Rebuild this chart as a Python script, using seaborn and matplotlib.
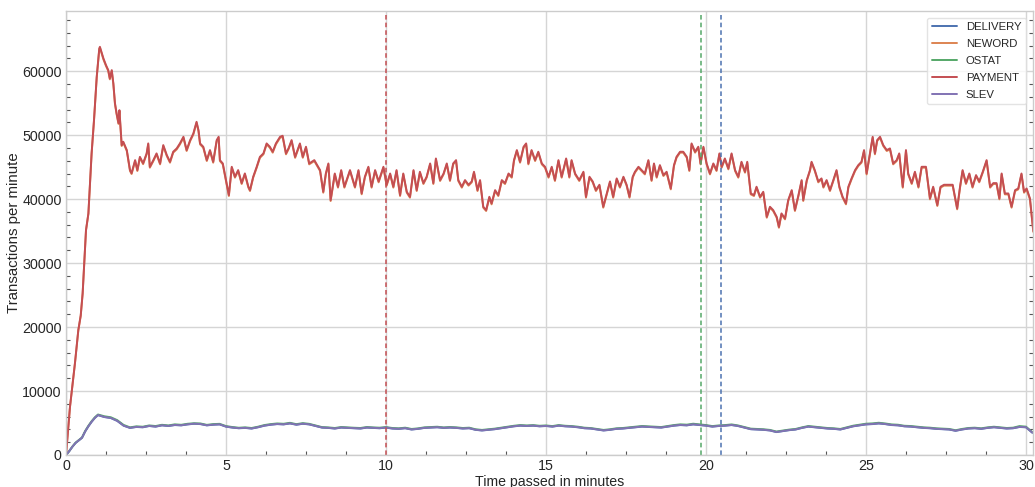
import numpy as np
import pandas as pd
import matplotlib
matplotlib.use("Agg")
import matplotlib.pyplot as plt
from matplotlib.ticker import MultipleLocator
import seaborn as sns

series_names = ["DELIVERY", "NEWORD", "OSTAT", "PAYMENT", "SLEV"]

# time (minutes) for the high-rate series (NEWORD, PAYMENT)
high_t = [
    0.00, 0.125, 0.28, 0.385, 0.46, 0.52, 0.625, 0.70, 0.80, 0.875,
    0.96, 1.04, 1.06, 1.17, 1.25, 1.32, 1.37, 1.43, 1.48, 1.53,
    1.58, 1.64, 1.67, 1.74, 1.79, 1.90, 2.00, 2.05, 2.16, 2.23,
    2.31, 2.41, 2.52, 2.57, 2.62, 2.73, 2.83, 2.94, 3.04, 3.15,
    3.25, 3.35, 3.46, 3.56, 3.67, 3.77, 3.88, 3.98, 4.08, 4.14,
    4.19, 4.29, 4.40, 4.50, 4.60, 4.71, 4.77, 4.81, 4.90, 5.02,
    5.09, 5.18, 5.28, 5.38, 5.49, 5.59, 5.70, 5.75, 5.85, 5.96,
    6.06, 6.17, 6.27, 6.37, 6.46, 6.56, 6.69, 6.77, 6.875, 6.96,
    7.05, 7.16, 7.31, 7.40, 7.50, 7.60, 7.76, 7.88, 7.94, 8.04,
    8.12, 8.20, 8.27, 8.40, 8.50, 8.60, 8.70, 8.875, 9.03, 9.14,
    9.24, 9.34, 9.45, 9.55, 9.66, 9.77, 9.92, 10.02, 10.13, 10.23,
    10.33, 10.44, 10.54, 10.65, 10.75, 10.86, 10.96, 11.06, 11.17, 11.27,
    11.38, 11.48, 11.56, 11.69, 11.80, 11.90, 12.00, 12.10, 12.19, 12.26,
    12.37, 12.47, 12.58, 12.68, 12.75, 12.86, 12.94, 13.04, 13.13, 13.23,
    13.30, 13.41, 13.51, 13.62, 13.72, 13.83, 13.93, 14.00, 14.09, 14.19,
    14.30, 14.38, 14.45, 14.55, 14.66, 14.76, 14.87, 14.97, 15.08, 15.18,
    15.28, 15.39, 15.49, 15.63, 15.73, 15.80, 15.91, 16.04, 16.17, 16.25,
    16.36, 16.46, 16.56, 16.67, 16.79, 16.90, 17.00, 17.10, 17.21, 17.31,
    17.42, 17.52, 17.61, 17.71, 17.78, 17.89, 17.99, 18.09, 18.20, 18.30,
    18.375, 18.46, 18.56, 18.67, 18.77, 18.90, 19.00, 19.08, 19.19, 19.29,
    19.40, 19.48, 19.55, 19.66, 19.76, 19.83, 19.92, 20.02, 20.125, 20.23,
    20.33, 20.42, 20.49, 20.59, 20.70, 20.80, 20.91, 21.01, 21.11, 21.22,
    21.29, 21.40, 21.50, 21.58, 21.69, 21.79, 21.90, 22.00, 22.10, 22.21,
    22.28, 22.36, 22.47, 22.57, 22.68, 22.78, 22.89, 22.99, 23.04, 23.15,
    23.25, 23.30, 23.40, 23.51, 23.61, 23.67, 23.77, 23.875, 23.98, 24.08,
    24.17, 24.27, 24.375, 24.45, 24.55, 24.66, 24.76, 24.86, 24.94, 25.02,
    25.125, 25.21, 25.28, 25.35, 25.44, 25.54, 25.65, 25.75, 25.85, 25.96,
    26.04, 26.15, 26.25, 26.32, 26.43, 26.53, 26.64, 26.74, 26.875, 27.00,
    27.10, 27.23, 27.33, 27.44, 27.57, 27.71, 27.78, 27.85, 27.94, 28.02,
    28.125, 28.23, 28.33, 28.44, 28.54, 28.65, 28.77, 28.88, 28.98, 29.08,
    29.17, 29.24, 29.34, 29.45, 29.55, 29.66, 29.76, 29.86, 29.94, 30.02,
    30.125, 30.21, 30.23,
]

payment_v = [
    0, 7550, 14370, 19530, 21800, 25260, 35160, 37760, 47140, 52340,
    59100, 63540, 63800, 61980, 60940, 60160, 58850, 60160, 58070, 55000,
    53440, 51880, 53900, 48440, 48960, 47660, 44530, 44060, 46090, 44530,
    46600, 45600, 47140, 48700, 45050, 46090, 47140, 45570, 48440, 46880,
    45830, 47400, 47920, 48700, 49740, 47660, 49220, 50260, 52080, 50780,
    48700, 48180, 46090, 47660, 45830, 49220, 49740, 46090, 45570, 42500,
    40620, 45050, 43490, 44530, 42500, 44010, 41930, 41400, 43490, 45050,
    46600, 47140, 48700, 48180, 47400, 48700, 49740, 49900, 47140, 48000,
    49220, 46600, 48700, 46600, 48180, 45570, 46090, 45050, 44530, 41140,
    44000, 45570, 39840, 44000, 41930, 44530, 41930, 44530, 41930, 44530,
    40890, 43490, 45050, 41930, 44530, 42760, 45050, 42240, 44000, 41930,
    44530, 40620, 44000, 41140, 40360, 44530, 41400, 44270, 42500, 43490,
    45570, 42500, 46350, 42970, 44000, 45570, 42970, 45570, 46090, 42970,
    41930, 42970, 42240, 42760, 44270, 41400, 42970, 38800, 38280, 40360,
    39320, 41400, 40620, 42970, 42500, 44000, 43490, 46090, 47660, 45830,
    48180, 48700, 45570, 47660, 46090, 47400, 45570, 45050, 43490, 45050,
    42970, 46090, 43490, 46350, 43490, 46090, 44000, 42970, 44270, 40360,
    43490, 42760, 41400, 42240, 38800, 40880, 42760, 40360, 43230, 41930,
    43490, 42240, 40360, 43490, 44270, 45050, 44530, 44000, 46090, 42970,
    45570, 43490, 45310, 43750, 44270, 41660, 45310, 46610, 47400, 47400,
    46610, 44530, 48700, 47400, 48180, 45570, 48180, 45570, 44000, 45570,
    44530, 47140, 45050, 46350, 44790, 47140, 44530, 43490, 45830, 44270,
    45830, 40880, 40620, 41930, 40360, 41140, 37230, 38800, 38280, 37230,
    35660, 37760, 36970, 39840, 41400, 38280, 40620, 42970, 39840, 42970,
    44530, 45830, 44530, 42760, 43230, 41930, 42970, 41400, 42970, 44530,
    41930, 40360, 39320, 41930, 43230, 44530, 45310, 45830, 47660, 44000,
    47140, 49740, 47140, 49220, 49740, 48440, 47660, 47920, 45570, 46090,
    47140, 41930, 47660, 44000, 42500, 44270, 41930, 45050, 45050, 40100,
    41930, 39060, 41930, 42240, 42240, 42240, 40360, 38540, 41930, 44530,
    42500, 44000, 41930, 43750, 42760, 44270, 46090, 41930, 42500, 42500,
    40100, 44000, 40880, 40880, 38800, 41400, 41660, 44000, 41140, 41660,
    40100, 35920, 35000,
]

neword_v = [
    0, 7520, 14330, 19490, 21760, 25220, 35100, 37700, 47070, 52260,
    59000, 63420, 63650, 61820, 60800, 60040, 58720, 60020, 57950, 54860,
    53300, 51750, 53760, 48300, 48820, 47520, 44400, 43920, 45950, 44390,
    46460, 45460, 47000, 48540, 44910, 45950, 47000, 45430, 48280, 46730,
    45690, 47260, 47770, 48540, 49580, 47520, 49070, 50100, 51920, 50630,
    48550, 48030, 45950, 47520, 45690, 49070, 49580, 45950, 45430, 42360,
    40480, 44910, 43350, 44390, 42360, 43870, 41790, 41260, 43350, 44910,
    46450, 47000, 48550, 48030, 47260, 48550, 49580, 49740, 47000, 47850,
    49070, 46450, 48550, 46460, 48030, 45430, 45950, 44910, 44390, 41000,
    43860, 45430, 39700, 43860, 41790, 44390, 41790, 44390, 41790, 44390,
    40750, 43350, 44910, 41790, 44390, 42620, 44910, 42100, 43860, 41790,
    44390, 40480, 43860, 41000, 40220, 44390, 41260, 44130, 42360, 43350,
    45430, 42360, 46200, 42830, 43860, 45430, 42830, 45430, 45950, 42830,
    41790, 42830, 42100, 42620, 44130, 41260, 42830, 38660, 38140, 40220,
    39180, 41260, 40480, 42830, 42360, 43860, 43350, 45950, 47520, 45690,
    48030, 48550, 45430, 47520, 45950, 47260, 45430, 44910, 43350, 44910,
    42830, 45950, 43350, 46200, 43350, 45950, 43860, 42830, 44130, 40220,
    43350, 42620, 41260, 42100, 38660, 40740, 42620, 40220, 43090, 41790,
    43350, 42100, 40220, 43350, 44130, 44910, 44390, 43860, 45950, 42830,
    45430, 43350, 45170, 43610, 44130, 41520, 45170, 46460, 47260, 47260,
    46460, 44390, 48550, 47260, 48030, 45430, 48030, 45430, 43860, 45430,
    44390, 47000, 44910, 46200, 44650, 47000, 44390, 43350, 45690, 44130,
    45690, 40740, 40480, 41790, 40220, 41000, 37090, 38660, 38140, 37090,
    35520, 37620, 36830, 39700, 41260, 38140, 40480, 42830, 39700, 42830,
    44390, 45690, 44390, 42620, 43090, 41790, 42830, 41260, 42830, 44390,
    41790, 40220, 39180, 41790, 43090, 44390, 45170, 45690, 47520, 43860,
    47000, 49580, 47000, 49070, 49580, 48300, 47520, 47770, 45430, 45950,
    47000, 41790, 47520, 43860, 42360, 44130, 41790, 44910, 44910, 39960,
    41790, 38920, 41790, 42100, 42100, 42100, 40220, 38400, 41790, 44390,
    42360, 43860, 41790, 43610, 42620, 44130, 45950, 41790, 42360, 42360,
    39960, 43860, 40740, 40740, 38660, 41260, 41520, 43860, 41000, 41520,
    39960, 35780, 34860,
]

# sampling grid (minutes) for the low-rate series
low_t = np.concatenate([np.arange(0.0, 1.01, 0.1), np.arange(1.2, 30.21, 0.2)])

slev_v = [
    0, 600, 1300, 1900, 2300, 2700, 3700, 4500, 5200, 5800, 6250,
    5950, 5800, 5350, 4600, 4250, 4400, 4350, 4550, 4450, 4650,
    4550, 4700, 4650, 4800, 4900, 4850, 4650, 4750, 4800, 4450,
    4300, 4200, 4250, 4150, 4350, 4600, 4750, 4850, 4800, 4950,
    4750, 4900, 4800, 4550, 4300, 4250, 4150, 4300, 4250, 4200,
    4150, 4300, 4250, 4200, 4300, 4150, 4100, 4200, 4000, 4100,
    4250, 4300, 4350, 4250, 4300, 4250, 4150, 4200, 3950, 3850,
    3950, 4050, 4200, 4350, 4500, 4600, 4550, 4600, 4500, 4550,
    4450, 4600, 4500, 4450, 4350, 4200, 4150, 4000, 3850, 3950,
    4100, 4150, 4250, 4350, 4450, 4400, 4350, 4300, 4450, 4600,
    4700, 4650, 4800, 4700, 4600, 4450, 4550, 4600, 4700, 4550,
    4300, 4050, 4000, 3950, 3850, 3600, 3750, 3900, 4000, 4250,
    4450, 4350, 4250, 4150, 4100, 4000, 4250, 4500, 4650, 4800,
    4850, 4950, 4850, 4700, 4650, 4500, 4450, 4350, 4250, 4200,
    4100, 4050, 4000, 3800, 4000, 4150, 4200, 4100, 4250, 4350,
    4250, 4150, 4200, 4400, 4350, 3500,
]

ostat_v = [
    0, 610, 1320, 1930, 2330, 2740, 3760, 4570, 5280, 5880, 6330,
    6050, 5900, 5450, 4700, 4320, 4480, 4420, 4620, 4530, 4720,
    4620, 4790, 4720, 4880, 4960, 4930, 4710, 4830, 4870, 4520,
    4370, 4260, 4320, 4220, 4420, 4680, 4830, 4930, 4880, 5030,
    4820, 4980, 4870, 4620, 4360, 4310, 4220, 4370, 4310, 4260,
    4220, 4370, 4310, 4270, 4360, 4220, 4170, 4270, 4070, 4160,
    4320, 4370, 4420, 4310, 4370, 4320, 4220, 4270, 4020, 3920,
    4020, 4120, 4270, 4420, 4570, 4680, 4620, 4670, 4570, 4620,
    4520, 4680, 4570, 4520, 4420, 4270, 4210, 4070, 3920, 4020,
    4170, 4220, 4320, 4420, 4530, 4480, 4420, 4370, 4530, 4680,
    4790, 4740, 4890, 4790, 4680, 4520, 4620, 4680, 4780, 4620,
    4370, 4120, 4070, 4020, 3920, 3670, 3820, 3970, 4070, 4320,
    4530, 4420, 4320, 4220, 4170, 4070, 4320, 4580, 4730, 4890,
    4940, 5040, 4930, 4780, 4730, 4570, 4530, 4420, 4320, 4270,
    4170, 4120, 4070, 3870, 4070, 4220, 4270, 4170, 4320, 4420,
    4320, 4220, 4270, 4520, 4430, 3560,
]

delivery_v = [
    0, 590, 1290, 1880, 2280, 2680, 3680, 4480, 5180, 5780, 6230,
    5930, 5780, 5330, 4580, 4230, 4380, 4330, 4530, 4430, 4630,
    4530, 4680, 4630, 4780, 4880, 4830, 4630, 4730, 4780, 4430,
    4280, 4180, 4230, 4130, 4330, 4580, 4730, 4830, 4780, 4930,
    4730, 4880, 4780, 4530, 4280, 4230, 4130, 4280, 4230, 4180,
    4130, 4280, 4230, 4180, 4280, 4130, 4080, 4180, 3980, 4080,
    4230, 4280, 4330, 4230, 4280, 4230, 4130, 4180, 3930, 3830,
    3930, 4030, 4180, 4330, 4480, 4580, 4530, 4580, 4480, 4530,
    4430, 4580, 4480, 4430, 4330, 4180, 4130, 3980, 3830, 3930,
    4080, 4130, 4230, 4330, 4430, 4380, 4330, 4280, 4430, 4580,
    4680, 4630, 4780, 4680, 4580, 4430, 4530, 4580, 4680, 4530,
    4280, 4030, 3980, 3930, 3830, 3580, 3730, 3880, 3980, 4230,
    4430, 4330, 4230, 4130, 4080, 3980, 4230, 4480, 4630, 4780,
    4830, 4930, 4830, 4680, 4630, 4480, 4430, 4330, 4230, 4180,
    4080, 4030, 3980, 3780, 3980, 4130, 4180, 4080, 4230, 4330,
    4230, 4130, 4180, 4380, 4330, 3480,
]

# marker events (minutes)
event_times = [10.0, 19.83, 20.47]
event_series = ["PAYMENT", "OSTAT", "DELIVERY"]

# ---------------------------------------------------------------
frames = []
for name, t, v in [
    ("DELIVERY", low_t, delivery_v),
    ("NEWORD", high_t, neword_v),
    ("OSTAT", low_t, ostat_v),
    ("PAYMENT", high_t, payment_v),
    ("SLEV", low_t, slev_v),
]:
    frames.append(pd.DataFrame({"time": np.asarray(t, dtype=float),
                                "tpm": np.asarray(v, dtype=float),
                                "type": name}))
df = pd.concat(frames, ignore_index=True)

sns.set_theme(style="whitegrid")
plt.rcParams["font.family"] = ["Liberation Sans", "DejaVu Sans"]

palette = dict(zip(series_names, sns.color_palette("deep", 5)))

fig = plt.figure(figsize=(10.35, 4.87), dpi=100)
ax = fig.add_axes([66 / 1035, 32 / 487, (1033 - 66) / 1035, (455 - 11) / 487])

sns.lineplot(data=df, x="time", y="tpm", hue="type", hue_order=series_names,
             palette=palette, estimator=None, linewidth=1.4, ax=ax)

for t, s in zip(event_times, event_series):
    ax.axvline(t, color=palette[s], linestyle="--", linewidth=1.1, dashes=(3, 2))

ax.set_xlim(0, 30.22)
ax.set_ylim(0, 69400)
ax.xaxis.set_major_locator(MultipleLocator(5))
ax.yaxis.set_major_locator(MultipleLocator(10000))
ax.xaxis.set_minor_locator(MultipleLocator(1.25))
ax.yaxis.set_minor_locator(MultipleLocator(2000))
ax.tick_params(which="minor", direction="in", length=3, width=0.8,
               color="#555555", bottom=True, left=True, right=True, top=False)
ax.tick_params(which="major", labelsize=10.3, colors="#262626", length=0, pad=3)
ax.grid(which="major", color="#d5d5d5", linewidth=1)
ax.grid(which="minor", visible=False)
for sp in ax.spines.values():
    sp.set_color("#cccccc")
    sp.set_linewidth(1)

ax.set_xlabel("Time passed in minutes", fontsize=10.2, color="#262626", labelpad=1)
ax.set_ylabel("Transactions per minute", fontsize=10.8, color="#262626", labelpad=1)

leg = ax.legend(loc="upper right", fontsize=8.2, frameon=True,
                bbox_to_anchor=(0.995, 0.99), borderaxespad=0.2,
                handlelength=2.2, labelspacing=0.6)
leg.get_frame().set_edgecolor("#dddddd")
for txt in leg.get_texts():
    txt.set_color("#262626")

fig.savefig("out.png", dpi=100)
